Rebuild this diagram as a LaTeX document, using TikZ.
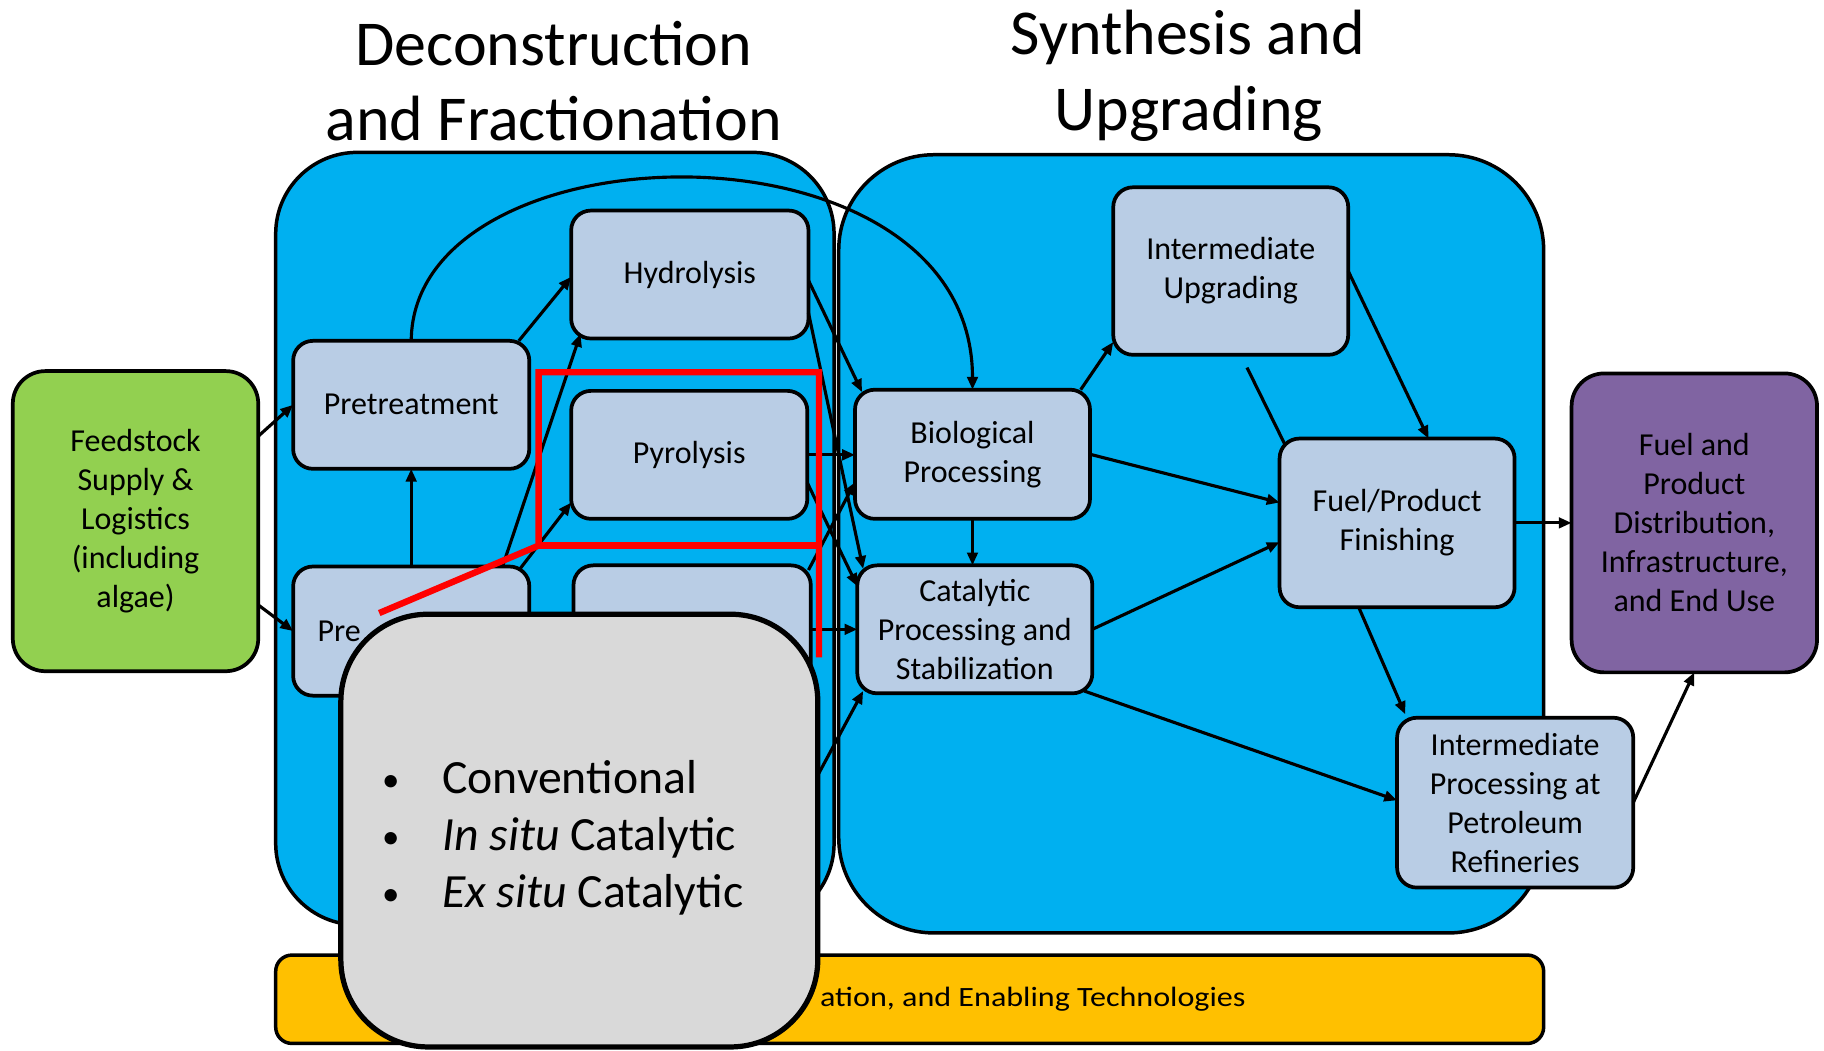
\documentclass[tikz,border=0pt]{standalone}
\usepackage{fontspec}
\setmainfont{Carlito}
\usepackage{graphicx}
\usetikzlibrary{arrows.meta}

\definecolor{panelblue}{HTML}{00B0F0}
\definecolor{boxblue}{HTML}{B9CDE5}
\definecolor{feedgreen}{HTML}{92D050}
\definecolor{enduse}{HTML}{8064A2}
\definecolor{barorange}{HTML}{FFC000}
\definecolor{calloutgray}{HTML}{D9D9D9}
\definecolor{markred}{HTML}{FF0000}

\tikzset{
  panel/.style={draw=black, line width=3pt, fill=panelblue, inner sep=0pt, outer sep=0pt},
  stage/.style={draw=black, line width=3.2pt, fill=boxblue, rounded corners=17pt,
    inner sep=0pt, outer sep=0pt, align=center,
    font=\fontsize{27.5}{33.5}\selectfont},
  endbox/.style={stage, rounded corners=28pt},
  flow/.style={line width=2.7pt, -{Triangle[length=11pt,width=9pt]}},
  plainline/.style={line width=2.7pt},
  heading/.style={font=\fontsize{55}{66}\selectfont, anchor=base, inner sep=0pt},
  bulletmark/.style={font=\fontsize{30}{49}\selectfont, anchor=base, inner sep=0pt},
  bullettext/.style={font=\fontsize{41}{49}\selectfont, anchor=base west, inner sep=0pt},
}

\begin{document}
\begin{tikzpicture}[x=1pt, y=-1pt]
\useasboundingbox (0,0) rectangle (1568,903);

% headings
\node[heading] (hdA1) at (476,56) {Deconstruction};
\node[heading] (hdA2) at (476,121) {and Fractionation};
\node[heading] (hdB1) at (1021,47) {Synthesis and};
\node[heading] (hdB2) at (1022,112) {Upgrading};

% the two process areas
\node[panel, rounded corners=70pt, minimum width=480pt, minimum height=664pt] (dfpanel) at (477,463) {};
\node[panel, rounded corners=82pt, minimum width=606pt, minimum height=669pt] (supanel) at (1024,467.5) {};

% cross-cutting bar
\node[draw=black, line width=3pt, fill=barorange, rounded corners=14pt,
      minimum width=1090pt, minimum height=76pt, inner sep=0pt] (bar) at (782,859) {};
\node[anchor=base east, inner sep=0pt] (bartext) at (1071,865)
  {\scalebox{1.15}[1]{\fontsize{24}{28}\selectfont ation, and Enabling Technologies}};

% feedstock and end use
\node[endbox, fill=feedgreen, minimum width=211pt, minimum height=258pt] (feed) at (116.5,448)
  {\raisebox{-2pt}{\parbox{200pt}{\centering Feedstock\\Supply \&\\Logistics\\(including\\algae)}}};
\node[endbox, fill=enduse, minimum width=211pt, minimum height=257pt] (use) at (1456.5,449.5)
  {Fuel and\\Product\\Distribution,\\Infrastructure,\\and End Use};

% deconstruction steps
\node[stage, minimum width=203pt, minimum height=110pt] (pret) at (353.5,348) {Pretreatment};
\node[stage, minimum width=204pt, minimum height=110pt] (hydro) at (593,236) {Hydrolysis};
\node[stage, minimum width=203pt, minimum height=110pt] (pyro) at (592.5,391) {Pyrolysis};
\node[stage, text width=161pt, align=left, minimum width=203pt, minimum height=111pt] (prep) at (353.5,542.5) {Pre};
\node[stage, minimum width=204pt, minimum height=110pt] (lowmid) at (595,541) {};

% synthesis and upgrading steps
\node[stage, minimum width=202pt, minimum height=111pt] (bio) at (836,390.5) {Biological\\Processing};
\node[stage, minimum width=202pt, minimum height=110pt] (cat) at (838,541) {Catalytic\\Processing and\\Stabilization};
\node[stage, minimum width=202pt, minimum height=144pt] (iupg) at (1058,233) {Intermediate\\Upgrading};
\node[stage, minimum width=202pt, minimum height=145pt] (fin) at (1201,449.5) {Fuel/Product\\Finishing};
\node[stage, minimum width=203pt, minimum height=146pt] (ipr) at (1302.5,690) {Intermediate\\Processing at\\Petroleum\\Refineries};

% free line ends
\coordinate (hid) at (700,672);
\coordinate (iupgfoot) at (1072,316);

% flows
\draw[flow] ([yshift=73pt]feed.east) -- (pret.west);
\draw[flow] ([yshift=-72pt]feed.east) -- (prep.west);
\draw[flow] (prep.north) -- (pret.south);
\draw[flow] ([xshift=-9pt]pret.north east) -- ([yshift=-2pt]hydro.west);
\draw[flow] (pret.north) .. controls (355,105) and (836,95) .. (bio.north);
\draw[flow] ([xshift=-23pt]prep.north east) -- ([xshift=8pt,yshift=4pt]hydro.south west);
\draw[flow] ([xshift=-8pt,yshift=-2pt]prep.north east) -- ([yshift=-41pt]pyro.west);
\draw[flow] ([yshift=-5pt]hydro.east) -- ([xshift=6pt,yshift=-2pt]bio.north west);
\draw[flow] ([yshift=-33pt]hydro.east) -- ([xshift=5pt,yshift=-3pt]cat.north west);
\draw[flow] (pyro.east) -- (pyro.east -| bio.west);
\draw[flow] ([yshift=-24pt]pyro.east) -- ([yshift=37pt]cat.west);
\draw[flow] ([xshift=-2pt,yshift=-4pt]lowmid.north east) -- ([yshift=-24pt]bio.west);
\draw[flow] (lowmid.east) -- (lowmid.east -| cat.west);
\draw[flow] (hid) -- ([xshift=5pt,yshift=2pt]cat.south west);
\draw[flow] (bio.south) -- (bio.south |- cat.north);
\draw[flow] ([xshift=-8pt]bio.north east) -- ([yshift=11pt]iupg.south west);
\draw[flow] (bio.east) -- ([yshift=17.5pt]fin.west);
\draw[flow] (cat.east) -- ([yshift=-16.5pt]fin.west);
\draw[flow] (iupg.east) -- ([xshift=27pt]fin.north);
\draw[plainline] (iupgfoot) -- ([xshift=5pt,yshift=-6pt]fin.north west);
\draw[flow] (fin.east) -- (fin.east -| use.west);
\draw[flow] ([xshift=-33pt]fin.south) -- ([xshift=7pt,yshift=3pt]ipr.north west);
\draw[flow] ([xshift=-7pt,yshift=2pt]cat.south east) -- ([yshift=2pt]ipr.west);
\draw[flow] (ipr.east) -- (use.south);

% pyrolysis call-out
\node[draw=black, line width=4.5pt, fill=calloutgray, rounded corners=75pt,
      minimum width=410pt, minimum height=372pt, inner sep=0pt] (callout) at (498,714) {};
\node[bulletmark] (m1) at (336,680) {•};
\node[bulletmark] (m2) at (336,729) {•};
\node[bulletmark] (m3) at (336,778) {•};
\node[bullettext] (l1) at (380,682) {Conventional};
\node[bullettext] (l2) at (380,731) {\textit{In situ} Catalytic};
\node[bullettext] (l3) at (380,780) {\textit{Ex situ} Catalytic};

% red highlight frame and leader
\coordinate (rTL) at (463,320);
\coordinate (rTR) at (704,320);
\coordinate (rBL) at (463,469);
\coordinate (rBR) at (704,469);
\coordinate (rEnd) at (704,565);
\coordinate (rLead) at (326,527);
\draw[markred, line width=5.5pt, line join=miter]
  (rLead) -- (rBL) -- (rTL) -- (rTR) -- (rEnd);
\draw[markred, line width=5.5pt] (rBL) -- (rBR);
\end{tikzpicture}
\end{document}
